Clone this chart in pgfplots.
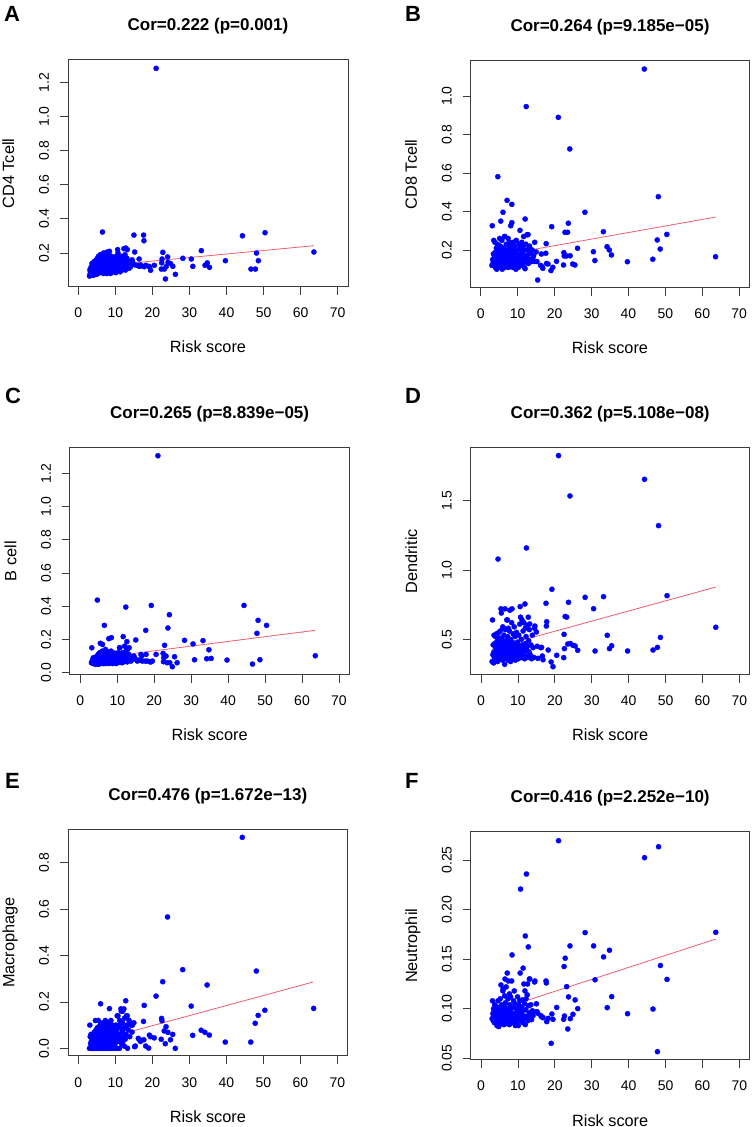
\documentclass[border=0pt]{standalone}
\usepackage{fontspec}
\setmainfont{Liberation Sans}
\usepackage{pgfplots}
\usepackage{pgfplotstable}
\pgfplotsset{compat=1.18}
\definecolor{regline}{RGB}{238,92,112}
\definecolor{boxgray}{RGB}{60,60,60}

\pgfplotstableread{
x a b c d e f
3.0 0.065 0.12 0.06 0.34 0.00 0.090
3.1 0.10 0.326 0.15 0.64 0.10 0.108
3.2 0.08 0.15 0.07 0.39 0.05 0.095
3.3 0.11 0.13 0.065 0.46 0.02 0.088
3.4 0.075 0.18 0.08 0.33 0.06 0.100
3.5 0.09 0.25 0.055 0.41 0.00 0.092
3.5 0.12 0.14 0.09 0.53 0.03 0.097
3.6 0.07 0.16 0.06 0.37 0.01 0.086
3.7 0.14 0.12 0.075 0.47 0.045 0.104
3.8 0.10 0.24 0.065 0.35 0.00 0.091
3.9 0.085 0.11 0.07 0.52 0.025 0.099
4.0 0.13 0.19 0.085 0.40 0.06 0.093
4.0 0.095 0.13 0.06 0.44 0.00 0.089
4.1 0.07 0.17 0.05 0.36 0.035 0.095
4.2 0.12 0.21 0.095 0.54 0.015 0.102
4.3 0.15 0.10 0.07 0.38 0.07 0.087
4.3 0.09 0.15 0.055 0.42 0.00 0.083
4.4 0.11 0.12 0.08 0.49 0.04 0.096
4.5 0.08 0.23 0.065 0.34 0.02 0.091
4.6 0.15 0.581 0.437 1.079 0.12 0.108
4.7 0.13 0.14 0.09 0.46 0.05 0.094
4.8 0.10 0.18 0.06 0.40 0.00 0.082
4.8 0.16 0.12 0.11 0.55 0.08 0.101
4.9 0.075 0.16 0.05 0.37 0.03 0.088
5.0 0.12 0.20 0.07 0.43 0.06 0.098
5.0 0.14 0.11 0.10 0.51 0.00 0.093
5.1 0.09 0.26 0.06 0.36 0.02 0.090
5.2 0.17 0.15 0.12 0.56 0.09 0.110
5.3 0.11 0.13 0.065 0.39 0.04 0.085
5.3 0.08 0.22 0.055 0.47 0.00 0.096
5.4 0.18 0.35 0.177 0.72 0.12 0.124
5.5 0.13 0.17 0.08 0.42 0.05 0.092
5.5 0.10 0.12 0.07 0.69 0.01 0.087
5.6 0.15 0.19 0.09 0.38 0.07 0.104
5.7 0.09 0.14 0.06 0.50 0.03 0.091
5.7 0.16 0.25 0.10 0.45 0.00 0.099
5.8 0.12 0.10 0.075 0.35 0.06 0.086
5.9 0.19 0.16 0.13 0.59 0.10 0.118
6.0 0.18 0.396 0.17 0.58 0.192 0.120
6.0 0.10 0.13 0.065 0.41 0.02 0.089
6.1 0.14 0.21 0.09 0.48 0.08 0.097
6.2 0.085 0.15 0.055 0.37 0.00 0.084
6.2 0.13 0.18 0.08 0.53 0.04 0.103
6.3 0.11 0.12 0.07 0.44 0.09 0.093
6.4 0.17 0.27 0.11 0.32 0.05 0.113
6.5 0.323 0.27 0.285 0.72 0.05 0.130
6.5 0.09 0.16 0.06 0.40 0.00 0.090
6.6 0.15 0.11 0.10 0.57 0.11 0.106
6.7 0.12 0.20 0.07 0.46 0.03 0.095
6.8 0.20 0.14 0.14 0.36 0.07 0.122
6.8 0.08 0.17 0.055 0.49 0.01 0.088
6.9 0.14 0.23 0.085 0.42 0.10 0.100
7.0 0.11 0.12 0.065 0.64 0.06 0.092
7.1 0.19 0.458 0.13 0.64 0.09 0.136
7.1 0.13 0.15 0.08 0.38 0.00 0.085
7.2 0.09 0.19 0.06 0.52 0.04 0.096
7.3 0.16 0.13 0.11 0.44 0.12 0.110
7.4 0.12 0.26 0.075 0.35 0.02 0.091
7.4 0.20 0.17 0.12 0.58 0.08 0.128
7.5 0.10 0.11 0.065 0.47 0.05 0.088
7.6 0.15 0.21 0.09 0.40 0.00 0.099
7.7 0.205 0.14 0.205 0.56 0.07 0.115
7.7 0.08 0.16 0.055 0.37 0.03 0.084
7.8 0.13 0.24 0.08 0.71 0.11 0.104
7.9 0.11 0.12 0.07 0.43 0.01 0.093
8.0 0.17 0.18 0.10 0.50 0.09 0.112
8.0 0.09 0.22 0.06 0.34 0.04 0.089
8.1 0.14 0.326 0.085 0.45 0.06 0.097
8.2 0.12 0.13 0.075 0.39 0.00 0.087
8.3 0.19 0.15 0.13 0.62 0.10 0.128
8.4 0.21 0.437 0.211 0.72 0.171 0.1543
8.4 0.10 0.342 0.065 0.41 0.02 0.091
8.5 0.15 0.20 0.09 0.48 0.07 0.101
8.6 0.13 0.11 0.08 0.36 0.04 0.086
8.7 0.08 0.17 0.055 0.54 0.00 0.094
8.8 0.16 0.24 0.10 0.43 0.12 0.108
8.9 0.11 0.14 0.07 0.38 0.03 0.090
9.0 0.18 0.19 0.12 0.59 0.08 0.118
9.0 0.095 0.12 0.06 0.46 0.01 0.087
9.1 0.13 0.16 0.085 0.40 0.05 0.095
9.2 0.15 0.22 0.09 0.52 0.10 0.105
9.3 0.10 0.13 0.065 0.35 0.00 0.083
9.4 0.12 0.18 0.075 0.44 0.06 0.092
9.5 0.17 0.10 0.11 0.39 0.03 0.100
9.6 0.09 0.25 0.055 0.55 0.07 0.089
9.7 0.14 0.15 0.09 0.42 0.00 0.093
9.8 0.11 0.12 0.07 0.37 0.04 0.087
9.9 0.16 0.20 0.10 0.48 0.09 0.112
10.0 0.13 0.14 0.08 0.41 0.02 0.096
10.1 0.085 0.17 0.06 0.36 0.10 0.083
10.2 0.18 0.11 0.12 0.53 0.06 0.104
10.3 0.12 0.23 0.075 0.45 0.00 0.091
10.4 0.15 0.16 0.10 0.39 0.08 0.099
10.5 0.10 0.13 0.065 0.61 0.14 0.108
10.6 0.22 0.302 0.15 0.736 0.05 0.136
10.7 0.20 0.21 0.15 0.66 0.14 0.2207
10.8 0.14 0.18 0.09 0.43 0.03 0.094
10.9 0.11 0.12 0.07 0.50 0.10 0.088
11.0 0.17 0.15 0.11 0.37 0.06 0.102
11.1 0.13 0.24 0.08 0.64 0.00 0.097
11.2 0.16 0.14 0.10 0.46 0.12 0.109
11.3 0.09 0.19 0.06 0.41 0.04 0.086
11.4 0.15 0.22 0.12 0.56 0.09 0.141
11.5 0.12 0.13 0.075 0.39 0.17 0.093
11.6 0.18 0.27 0.217 0.62 0.16 0.125
11.7 0.10 0.16 0.065 0.44 0.02 0.090
11.8 0.14 0.11 0.09 0.36 0.07 0.105
11.9 0.17 0.20 0.12 0.755 0.11 0.118
12.0 0.18 0.361 0.16 0.58 0.16 0.1734
12.0 0.11 0.103 0.07 0.47 0.03 0.084
12.1 0.13 0.17 0.08 0.38 0.08 0.099
12.2 0.16 0.23 0.10 0.52 0.05 0.110
12.3 0.225 0.945 0.395 1.159 0.17 0.2359
12.4 0.12 0.14 0.075 0.42 0.01 0.092
12.5 0.15 0.279 0.14 0.60 0.13 0.114
12.6 0.19 0.16 0.187 0.45 0.09 0.125
12.7 0.10 0.20 0.065 0.37 0.04 0.088
12.8 0.229 0.28 0.14 0.66 0.205 0.1624
12.9 0.14 0.13 0.09 0.49 0.06 0.103
13.0 0.12 0.18 0.08 0.41 0.14 0.096
13.1 0.17 0.21 0.11 0.57 0.10 0.130
13.2 0.22 0.22 0.15 0.611 0.14 0.130
13.3 0.13 0.15 0.075 0.39 0.00 0.091
13.5 0.15 0.19 0.095 0.46 0.08 0.104
13.7 0.11 0.14 0.07 0.36 0.12 0.089
13.9 0.14 0.20 0.09 0.53 0.05 0.098
14.1 0.12 0.16 0.08 0.44 0.11 0.093
14.3 0.13 0.17 0.085 0.37 0.10 0.097
14.5 0.16 0.14 0.10 0.58 0.07 0.127
14.6 0.15 0.240 0.09 0.596 0.10 0.128
15.0 0.305 0.19 0.197 0.553 0.11 0.105
15.2 0.206 0.14 0.08 0.45 0.007 0.097
15.4 0.13 0.044 0.07 0.363 0.01 0.0954
16.2 0.125 0.12 0.075 0.44 0.043 0.093
16.4 0.165 0.179 0.11 0.442 0.04 0.092
16.6 0.122 0.113 0.10 0.38 0.035 0.0915
16.8 0.13 0.105 0.07 0.353 0.03 0.091
17.6 0.305 0.183 0.07 0.760 0.116 0.128
17.7 0.272 0.233 0.255 0.596 0.037 0.126
17.8 0.12 0.13 0.11 0.627 0.185 0.087
18.2 0.128 0.127 0.07 0.423 0.010 0.0903
19.0 0.122 0.093 0.064 0.337 0.001 0.0651
19.2 0.12 0.321 0.405 0.861 0.057 0.0947
19.5 0.099 0.110 0.07 0.303 0.05 0.0893
20.5 0.128 0.141 0.110 0.385 0.045 0.1013
21.0 1.282 0.889 1.306 1.825 0.225 0.2695
22.4 0.106 0.122 0.116 0.368 0.039 0.0893
22.5 0.142 0.186 0.066 0.536 0.129 0.1426
22.6 0.165 0.169 0.09 0.433 0.119 0.0927
22.8 0.204 0.292 0.165 0.665 0.287 0.151
23.2 0.106 0.169 0.10 0.66 0.075 0.1223
23.5 0.048 0.292 0.06 0.466 0.020 0.0796
23.7 0.12 0.339 0.269 0.767 0.093 0.112
24.1 0.177 0.725 0.349 1.534 0.566 0.1634
24.2 0.145 0.17 0.06 0.47 0.069 0.090
24.9 0.138 0.127 0.036 0.457 0.037 0.0944
25.5 0.122 0.122 0.096 0.452 0.06 0.1089
26.2 0.075 0.209 0.060 0.421 0.0 0.1001
28.2 0.169 0.396 0.195 0.803 0.339 0.1768
30.5 0.165 0.191 0.173 0.721 0.182 0.1634
30.9 0.122 0.145 0.078 0.416 0.056 0.1292
33.2 0.214 0.295 0.193 0.808 0.078 0.1523
34.2 0.128 0.217 0.084 0.529 0.069 0.1011
34.8 0.142 0.200 0.138 0.433 0.273 0.1590
35.4 0.116 0.174 0.086 0.454 0.057 0.1122
39.7 0.155 0.139 0.076 0.416 0.027 0.0950
44.3 0.301 1.140 0.405 1.654 0.909 0.2524
46.6 0.106 0.152 0.052 0.423 0.027 0.0997
47.8 0.106 0.252 0.237 0.442 0.108 0.0567
48.1 0.200 0.477 0.315 1.320 0.333 0.2634
48.6 0.155 0.205 0.078 0.514 0.142 0.1436
50.4 0.319 0.281 0.285 0.815 0.164 0.1296
63.6 0.206 0.165 0.102 0.587 0.172 0.1771
}\data

\pgfplotsset{
  rp/.style={
    scale only axis, width=280pt, height=227pt,
    xmin=-2.8, xmax=72.8,
    xtick={0,10,20,30,40,50,60,70},
    tick align=outside, xtick pos=bottom, ytick pos=left,
    major tick length=8pt,
    every tick/.style={boxgray, line width=0.8pt},
    axis line style={boxgray, line width=1pt},
    /pgf/number format/assume math mode=true,
    tick label style={font=\fontsize{14}{16}\selectfont},
    xticklabel style={anchor=base},
    xticklabel shift=23pt,
    yticklabel style={rotate=90, anchor=base},
    yticklabel shift=11pt,
    every axis title/.style={at={(0.5,1)}, anchor=base, yshift=29pt,
      font=\fontsize{17}{20}\selectfont\bfseries},
    every axis x label/.style={at={(0.5,0)}, anchor=base, yshift=-66pt,
      font=\fontsize{16.3}{19}\selectfont},
    every axis y label/.style={at={(-0.192,0.5)}, rotate=90, anchor=base,
      font=\fontsize{16.3}{19}\selectfont},
    xlabel={Risk score},
    clip=false,
  },
  pts/.style={only marks, color=blue, mark=*, mark size=2.6pt,
    mark options={solid, draw=blue, fill=blue, line width=0.3pt}},
  fit/.style={regline, line width=0.8pt, no marks},
  p1/.style={y tick label style={/pgf/number format/fixed, /pgf/number format/fixed zerofill, /pgf/number format/precision=1}},
  p2/.style={y tick label style={/pgf/number format/fixed, /pgf/number format/fixed zerofill, /pgf/number format/precision=2}},
}

\begin{document}
\begin{tikzpicture}
\path[use as bounding box] (0pt,0pt) rectangle (752pt,1127pt);

% A
\begin{axis}[rp, p1, at={(68pt,840pt)}, anchor=south west, width=280pt, height=227pt,
  ymin=0.001, ymax=1.331, ytick={0.2,0.4,0.6,0.8,1.0,1.2},
  title={Cor=0.222 (p=0.001)}, ylabel={CD4 Tcell}]
\addplot[pts] table[x=x, y=a] {\data};
\addplot[fit] coordinates {(3.1,0.118) (63.6,0.243)};
\end{axis}

% B
\begin{axis}[rp, p1, at={(470.5pt,839pt)}, anchor=south west, width=279pt, height=227.3pt,
  ymin=0.0026, ymax=1.1835, ytick={0.2,0.4,0.6,0.8,1.0},
  title={Cor=0.264 (p=9.185e−05)}, ylabel={CD8 Tcell}]
\addplot[pts] table[x=x, y=b] {\data};
\addplot[fit] coordinates {(3.1,0.165) (63.6,0.371)};
\end{axis}

% C
\begin{axis}[rp, p1, at={(70pt,452.3pt)}, anchor=south west, width=279.3pt, height=227pt,
  ymin=-0.012, ymax=1.3545, ytick={0,0.2,0.4,0.6,0.8,1.0,1.2},
  title={Cor=0.265 (p=8.839e−05)}, ylabel={B cell}]
\addplot[pts] table[x=x, y=c] {\data};
\addplot[fit] coordinates {(3.2,0.084) (63.5,0.255)};
\end{axis}

% D
\begin{axis}[rp, p1, at={(470.7pt,452pt)}, anchor=south west, width=279pt, height=227.3pt,
  ymin=0.243, ymax=1.882, ytick={0.5,1.0,1.5},
  title={Cor=0.362 (p=5.108e−08)}, ylabel={Dendritic}]
\addplot[pts] table[x=x, y=d] {\data};
\addplot[fit] coordinates {(3.1,0.435) (63.6,0.877)};
\end{axis}

% E
\begin{axis}[rp, p1, at={(68pt,71pt)}, anchor=south west, width=279.7pt, height=227pt,
  ymin=-0.033, ymax=0.945, ytick={0,0.2,0.4,0.6,0.8},
  title={Cor=0.476 (p=1.672e−13)}, ylabel={Macrophage}]
\addplot[pts] table[x=x, y=e] {\data};
\addplot[fit] coordinates {(3.0,0.024) (63.5,0.286)};
\end{axis}

% F
\begin{axis}[rp, p2, at={(470.7pt,67pt)}, anchor=south west, width=279pt, height=228.3pt,
  ymin=0.0483, ymax=0.2786, ytick={0.05,0.10,0.15,0.20,0.25},
  title={Cor=0.416 (p=2.252e−10)}, ylabel={Neutrophil}]
\addplot[pts] table[x=x, y=f] {\data};
\addplot[fit] coordinates {(3.1,0.0971) (63.6,0.1703)};
\end{axis}

\node[anchor=base west, inner sep=0pt, font=\fontsize{22}{24}\selectfont\bfseries] at (4pt,1105.3pt) {A};
\node[anchor=base west, inner sep=0pt, font=\fontsize{22}{24}\selectfont\bfseries] at (405pt,1105.3pt) {B};
\node[anchor=base west, inner sep=0pt, font=\fontsize{22}{24}\selectfont\bfseries] at (5pt,723.7pt) {C};
\node[anchor=base west, inner sep=0pt, font=\fontsize{22}{24}\selectfont\bfseries] at (405pt,723.7pt) {D};
\node[anchor=base west, inner sep=0pt, font=\fontsize{22}{24}\selectfont\bfseries] at (5pt,338.7pt) {E};
\node[anchor=base west, inner sep=0pt, font=\fontsize{22}{24}\selectfont\bfseries] at (405pt,338.7pt) {F};
\end{tikzpicture}
\end{document}
